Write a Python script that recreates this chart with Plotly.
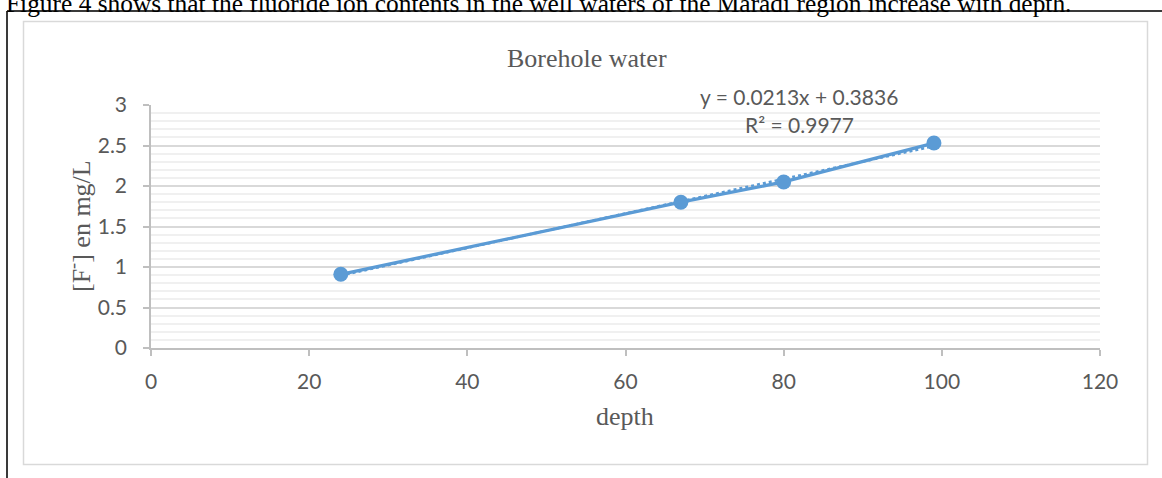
import plotly.graph_objects as go

# ---- data ----
depth = [24, 67, 80, 99]
fluoride = [0.91, 1.80, 2.05, 2.53]
trend_slope = 0.0213
trend_intercept = 0.3836
eq_text = "y = 0.0213x + 0.3836"
r2_text = "R² = 0.9977"
x_ticks = [0, 20, 40, 60, 80, 100, 120]
y_ticks = [0, 0.5, 1, 1.5, 2, 2.5, 3]
y_tick_labels = ["0", "0.5", "1", "1.5", "2", "2.5", "3"]
chart_title = "Borehole water"
x_title = "depth"
y_title = "[F<sup>-</sup>] en mg/L"
caption = "Figure 4 shows that the fluoride ion contents in the well waters of the Maradi region increase with depth."

W, H = 1162, 478
L, R, T, B = 151, 62, 105, 130
PW, PH = W - L - R, H - T - B

def px(x):
    return (x - L) / PW

def py(y):
    return (H - B - y) / PH

blue = "#5B9BD5"
tick_font = dict(family="Lato, Carlito, Calibri, sans-serif", size=21, color="#595959")
serif = "Liberation Serif, Times New Roman, serif"

trend_x = [min(depth), max(depth)]
trend_y = [trend_slope * v + trend_intercept for v in trend_x]

fig = go.Figure()
fig.add_trace(go.Scatter(x=trend_x, y=trend_y, mode="lines",
                         line=dict(color=blue, width=2.5, dash="dot"),
                         hoverinfo="skip", showlegend=False))
fig.add_trace(go.Scatter(x=depth, y=fluoride, mode="lines+markers",
                         line=dict(color=blue, width=3.3),
                         marker=dict(color=blue, size=15),
                         showlegend=False))

fig.update_layout(
    width=W, height=H,
    margin=dict(l=L, r=R, t=T, b=B, autoexpand=False),
    paper_bgcolor="white", plot_bgcolor="white",
    showlegend=False,
    xaxis=dict(range=[0, 120], tickvals=x_ticks, showgrid=False, zeroline=False,
               showline=True, linecolor="#BFBFBF", linewidth=1.5,
               ticks="outside", ticklen=6, tickcolor="#BFBFBF", tickwidth=1.5,
               tickfont=tick_font, ticklabelstandoff=8, fixedrange=True),
    yaxis=dict(range=[0, 3], tickvals=y_ticks, ticktext=y_tick_labels,
               showgrid=True, gridcolor="#D9D9D9", gridwidth=1.5, zeroline=False,
               showline=True, linecolor="#BFBFBF", linewidth=1.5,
               ticks="outside", ticklen=6, tickcolor="#BFBFBF", tickwidth=1.5,
               tickfont=tick_font, ticklabelstandoff=12,
               minor=dict(dtick=0.1, showgrid=True, gridcolor="#F0F0F0", gridwidth=1.5),
               fixedrange=True),
)

shapes = [
    # black outer frame
    dict(type="line", xref="paper", yref="paper", x0=px(7), x1=px(1170), y0=py(11), y1=py(11),
         line=dict(color="#3A3A3A", width=2)),
    dict(type="line", xref="paper", yref="paper", x0=px(7), x1=px(7), y0=py(11), y1=py(490),
         line=dict(color="#3A3A3A", width=2)),
    # gray chart-area border
    dict(type="rect", xref="paper", yref="paper", x0=px(23.5), x1=px(1147.5), y0=py(21.5), y1=py(464.5),
         line=dict(color="#D9D9D9", width=1.5), layer="below"),
]
fig.update_layout(shapes=shapes)

annotations = [
    dict(text=caption, xref="paper", yref="paper", x=px(4), y=py(2.5), xanchor="left", yanchor="middle",
         showarrow=False, font=dict(family=serif, size=25.4, color="black")),
    dict(text=chart_title, xref="paper", yref="paper", x=px(587), y=py(58), xanchor="center", yanchor="middle",
         showarrow=False, font=dict(family=serif, size=26, color="#595959")),
    dict(text=x_title, xref="paper", yref="paper", x=px(625), y=py(416), xanchor="center", yanchor="middle",
         showarrow=False, font=dict(family=serif, size=26, color="#595959")),
    dict(text=y_title, xref="paper", yref="paper", x=px(79), y=py(226), xanchor="center", yanchor="middle",
         textangle=-90, showarrow=False, font=dict(family=serif, size=26, color="#595959")),
    dict(text=eq_text, xref="paper", yref="paper", x=px(799), y=py(97), xanchor="center", yanchor="middle",
         showarrow=False, font=tick_font),
    dict(text=r2_text, xref="paper", yref="paper", x=px(799), y=py(125), xanchor="center", yanchor="middle",
         showarrow=False, font=tick_font),
]
fig.update_layout(annotations=annotations)

fig.write_html("out.html", config={"displayModeBar": False},
               post_script="document.body.style.margin='0px';document.body.style.overflow='hidden';")
